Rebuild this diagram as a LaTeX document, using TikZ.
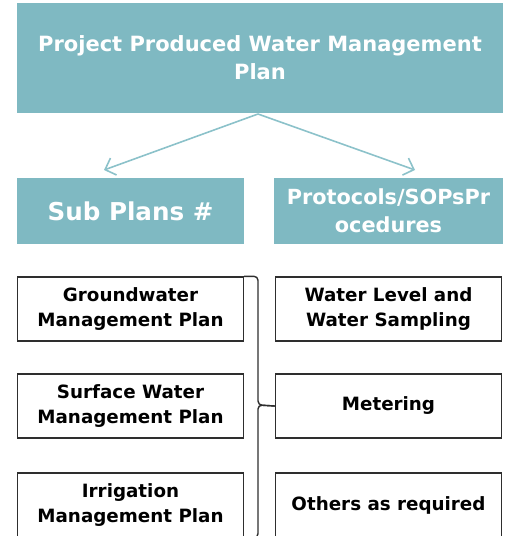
\documentclass[tikz,border=0pt]{standalone}
\usepackage{fontspec}
\setmainfont{DejaVu Sans}
\usetikzlibrary{arrows.meta}

\definecolor{teal1}{HTML}{7FB9C2}
\definecolor{teal2}{HTML}{8CC2CA}
\definecolor{boxline}{HTML}{2E2E2E}

\tikzset{
  headbox/.style = {fill = teal1, text = white, font = \bfseries, align = center, inner sep = 0pt},
  planbox/.style = {draw = boxline, line width = 1.4pt, fill = white, text = black, align = center,
                    minimum width = 226pt, minimum height = 64pt, inner sep = 0pt,
                    font = \fontsize{18.3}{25}\selectfont\bfseries},
  link/.style = {draw = teal2, line width = 1.6pt, -{Straight Barb[length = 9pt, width = 18pt]}},
  bracket/.style = {draw = boxline, line width = 1.4pt, rounded corners = 4pt}
}

\begin{document}
\begin{tikzpicture}[x = 1pt, y = -1pt]
\useasboundingbox (0, 0) rectangle (504, 536);
\clip (0, 0) rectangle (504, 536);
\node[headbox, minimum width = 486pt, minimum height = 110pt, font = \fontsize{21}{28}\selectfont\bfseries] (v0) at (260, 58) {Project Produced Water Management\\Plan};
\node[headbox, minimum width = 227pt, minimum height = 66pt, font = \fontsize{24.6}{28}\selectfont\bfseries] (v1) at (130.5, 211) {Sub Plans \#};
\node[headbox, minimum width = 229pt, minimum height = 66pt, font = \fontsize{20.8}{28}\selectfont\bfseries] (v2) at (388.5, 211) {Protocols/SOPsPr\\ocedures};
\node[planbox] (p1) at (130.5, 309) {Groundwater\\Management Plan};
\node[planbox] (p2) at (130.5, 406) {Surface Water\\Management Plan};
\node[planbox] (p3) at (130.5, 505) {Irrigation\\Management Plan};
\node[planbox] (q1) at (388.5, 309) {Water Level and\\Water Sampling};
\node[planbox] (q2) at (388.5, 406) {Metering};
\node[planbox] (q3) at (388.5, 505) {Others as required};
\coordinate (t0) at (258, 114);
\coordinate (t1) at (104, 170);
\coordinate (t2) at (415, 170);
\draw[link] (t0) -- (t1);
\draw[link] (t0) -- (t2);
\draw[bracket] (p1.north east) -| (258, 405) -- (q2.west);
\draw[bracket] (q2.west) -- (258, 405) |- (p3.south east);
\end{tikzpicture}
\end{document}
